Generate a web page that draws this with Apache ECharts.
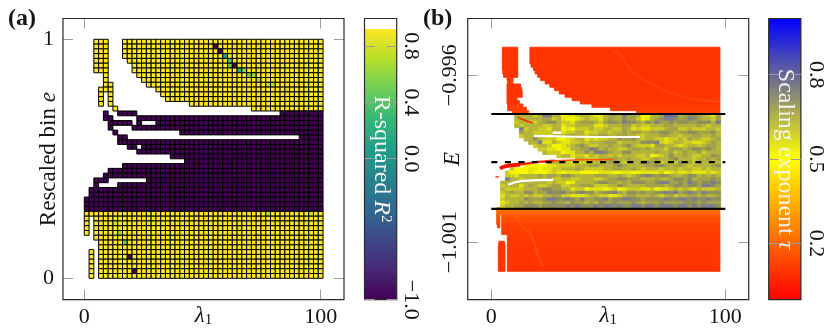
<!DOCTYPE html>
<html><head><meta charset="utf-8">
<style>html,body{margin:0;padding:0;background:#fff}#c{width:831px;height:334px}</style>
<script src="https://cdn.jsdelivr.net/npm/echarts@6/dist/echarts.min.js"></script>
</head><body><div id="c"></div>
<script>
// ---------- panel (a): R-squared cells ----------
const ticksLambda = [0, 100];
const ticksBin = [0, 1];
const ticksR2 = [-1, 0, 0.4, 0.8];
const ticksTau = [0.2, 0.5, 0.8];
const ticksE = [-1.001, -0.996];
const r2Yellow = 0.92, r2Purple = -1;
const rowKindA = 'yyyyyyyyyyyyyyypppppppppppppppppppppyyyyyyyyyyyyyy';
const spansA = [
 [[2,4],[8,49]],[[2,4],[8,49]],[[2,4],[8,49]],[[2,4],[8,49]],[[2,4],[9,49]],
 [[2,4],[10,49]],[[2,4],[10,49]],[[4,4],[11,49]],[[4,4],[12,49]],[[4,5],[13,49]],
 [[3,5],[15,49]],[[3,3],[5,5],[16,49]],[[3,3],[5,5],[17,49]],[[3,3],[5,5],[22,49]],[[6,6],[35,49]],
 [[4,4],[7,10],[41,49]],[[4,5],[11,49]],[[5,9],[11,11],[15,49]],[[5,5],[10,49]],[[6,6],[20,49]],
 [[7,8],[45,49]],[[7,49]],[[9,10],[12,49]],[[11,49]],[[18,49]],
 [[21,49]],[[8,49]],[[5,49]],[[4,49]],[[2,4],[13,49]],
 [[2,2],[7,49]],[[1,49]],[[1,49]],[[0,49]],[[0,49]],[[0,49]],
 [[0,49]],[[0,0],[2,49]],[[0,0],[2,49]],[[0,0],[2,49]],[[0,0],[2,49]],
 [[2,49]],[[3,49]],[[3,49]],[[1,1],[3,49]],[[1,1],[3,49]],[[1,1],[3,49]],[[1,1],[3,49]],[[1,1],[3,49]],[[1,1],[3,49]]
];
// [column, row, R2] cells that differ from their block
const oddCellsA = [
 [27,1,-1],[28,2,-1],[29,3,0.1],[30,4,0.35],[30,5,0.5],[31,5,-1],[32,6,0.2],[33,6,0.6],
 [34,7,0.55],[35,7,0.65],[36,8,0.7],[38,9,0.75],[39,9,0.75],[42,10,0.8],
 [9,45,-1],[10,48,-1],[7,40,0.65],[8,42,0.5],[6,38,0.8],[38,36,0.75],[47,36,0.78],[32,39,0.8]
];
// ---------- panel (b): scaling exponent cells ----------
const rowEBand = [-0.99722,-0.99732,-0.99742,-0.99752,-0.99762,-0.99772,-0.99782,-0.99792,-0.99802,-0.99812,
 -0.99822,-0.99832,-0.99842,-0.99852,-0.99862,-0.99872,-0.99882,-0.99892,-0.99902,-0.99912,
 -0.99922,-0.99932,-0.99942,-0.99952,-0.99962,-0.99972,-0.99982,-0.99992];
// one digit per 2-wide lambda bin, index into bandColours (overlapping yellow to slate markers)
const bandColours = ['#f6f600','#e4e410','#cccc26','#b4b43c','#a2a24a','#8e8e5c','#7c7c8e','#6c6ca8'];
const tauBand = [
 '..... 33332 36633 01123 32113 44364 43003 34776 34554 3214',
 '..... 33333 34423 10012 32213 43354 42013 45665 44654 3324',
 '..... 23322 34553 22134 44324 55465 54354 64454 55445 5536',
 '..... 32333 32233 12233 33112 33344 23223 33443 33334 3233',
 '..... .6233 22133 01022 23223 32243 12112 22344 22322 2332',
 '..... .4332 222.. 12233 12233 23343 44334 45543 44554 4453',
 '..... .233. ...33 34433 23344 33443 32233 34433 23344 3343',
 '..... ..335 32220 01233 12122 33544 53233 22122 32433 2234',
 '..... ...33 61132 11223 23334 44233 33555 62123 32211 2343',
 '..... ....2 33200 12345 32233 43345 32221 44332 12332 3443',
 '..... ..... 22110 11334 46534 33223 44343 33244 43455 4543',
 '..... ..... .3222 01133 53665 43355 33333 43342 34334 2333',
 '..... ..... ....2 33122 13233 23233 32230 12353 34322 3354',
 '..... ..... ..... ...33 22233 44334 33223 43345 33323 3434',
 '..... ..... ..233 22112 22333 44323 33654 32322 53423 3323',
 '..... ..000 00112 22233 34433 34543 33344 55434 43233 3345',
 '....2 00011 01122 33343 22223 34433 43233 32333 23322 3233',
 '...20 00010 00121 01110 00011 10011 00111 12012 11211 1212',
 '...22 13333 43443 55433 33444 33432 34565 45543 34553 4343',
 '...63 32333 33422 33223 33223 44554 44333 43345 54534 4454',
 '..333 33333 33232 20133 33455 44343 55544 56644 54654 5565',
 '..233 31343 22344 22334 44222 33543 33344 44345 54554 6654',
 '..322 22333 45544 33122 01110 12012 22112 01123 23213 2223',
 '..234 33553 44655 64456 55345 56435 54544 55656 45654 6555',
 '..132 23232 23344 22111 23322 11234 43334 32342 33443 4334',
 '..233 33544 45665 56546 44556 45566 55455 55655 66565 5655',
 '..123 34343 34454 43544 34354 45444 54344 45444 45554 5444',
 '..233 44555 45555 56565 55656 65655 66566 56665 66565 6665'
];
// red block above the band: E of each row, tau, lambda spans
const rowETop = [-0.99521,-0.99531,-0.99541,-0.99551,-0.99561,-0.99571,-0.99581,-0.99591,-0.99601,-0.99611,
 -0.99621,-0.99631,-0.99641,-0.99651,-0.99661,-0.99671,-0.99681,-0.99691,-0.99701,-0.99711];
const tauTop = [0.1,0.1,0.1,0.1,0.1,0.1,0.1,0.1,0.1,0.1,0.1,0.1,0.1,0.1,0.1,0.105,0.105,0.11,0.115,0.125];
const spansTop = [
 [[4.7,11.3],[16.5,97.7]],[[4.7,11.3],[16.5,97.7]],[[4.7,11.3],[16.5,97.7]],[[4.7,11.3],[16.5,97.7]],[[4.7,11.3],[16.5,97.7]],
 [[4.7,11.3],[17,97.7]],[[4.7,11.3],[18,97.7]],[[4.9,11.3],[18.7,97.7]],[[5.2,11.3],[19.8,97.7]],[[6.7,9.3],[21,97.7]],
 [[7,9.2],[23,97.7]],[[6.7,12.5],[25,97.7]],[[6.7,13],[27,97.7]],[[6.7,13.2],[29,97.7]],[[6.7,13.2],[31.5,97.7]],
 [[6.7,11],[34.5,97.7]],[[6.7,12],[38,97.7]],[[7,11],[11.5,13.5],[43,97.7]],[[7,15],[51,97.7]],[[9,16],[62,97.7]]
];
// red block below the band
const rowEBottom = [-1.00002,-1.00012,-1.00022,-1.00032,-1.00042,-1.00052,-1.00062,-1.00072,-1.00082,-1.00092,
 -1.00102,-1.00112,-1.00122,-1.00132,-1.00142,-1.00152,-1.00162,-1.00172,-1.00182];
const tauBottom = [0.215,0.2,0.17,0.15,0.14,0.13,0.125,0.12,0.115,0.112,0.11,0.108,0.106,0.105,0.104,0.103,0.102,0.101,0.1];
const spansBottom = [
 [[2.3,97.7]],[[2.3,97.7]],[[2.3,3.7],[4.45,97.7]],[[2.3,3.7],[4.45,97.7]],[[2.3,3.7],[4.45,97.7]],
 [[2.6,3.7],[4.45,97.7]],[[4.45,97.7]],[[4.45,97.7]],[[6.85,97.7]],[[6.85,97.7]],
 [[3.2,5.6],[6.85,97.7]],[[3,5.85],[6.85,97.7]],[[3,5.85],[6.85,97.7]],[[3,5.85],[6.85,97.7]],[[3,5.85],[6.85,97.7]],
 [[3,5.85],[6.85,97.7]],[[3,5.85],[6.85,97.7]],[[3,5.85],[6.85,97.7]],[[3,5.85],[6.85,97.7]]
];
// level lines
const lineLambda = [0, 100];
const solidE = [-0.99716, -1.0];
const dashedE = -0.9986;
// thin curves of outlying points and empty gaps
const arcTop = [[51.6,-0.99524],[55,-0.99539],[60.5,-0.9959],[69,-0.99629],[79.3,-0.99659],[97.7,-0.9968]];
const arcBottom = [[10,-1.00018],[13.5,-1.00054],[16.5,-1.00072],[19.5,-1.00129],[21.7,-1.00174]];
const redRidge = [[3.7,-0.99879],[5.9,-0.99873],[8,-0.9987],[12.3,-0.99867]];
const redRidgeMid = [[12.3,-0.99867],[18,-0.99861],[23,-0.99858],[27,-0.99856]];
const redRidgeThin = [[27,-0.99856],[38,-0.99853],[52,-0.99852]];
const redCorner = [[11.4,-0.99725],[14,-0.99734],[17.8,-0.99743]];
const redDot = [[2.5,-0.99902],[2.5,-0.99906]];
const gapUpper = [[23,-0.99782],[46.5,-0.99785],[63.5,-0.99785]];
const gapLower = [[7.1,-0.99928],[13.5,-0.99916],[26.4,-0.99913]];

// ---------- colours ----------
const viridis = ['#440154','#482878','#3e4989','#31688e','#26828e','#1f9e89','#35b779','#6ece58','#b5de2b','#fde725'];
const r2Range = [-1, 0.92];
function hex(c){return [parseInt(c.slice(1,3),16),parseInt(c.slice(3,5),16),parseInt(c.slice(5,7),16)];}
function colR2(v){
  const t=(v-r2Range[0])/(r2Range[1]-r2Range[0])*(viridis.length-1);
  const i=Math.min(Math.floor(t),viridis.length-2),f=t-i,a=hex(viridis[i]),b=hex(viridis[i+1]);
  return 'rgb('+a.map((x,k)=>Math.round(x+(b[k]-x)*f)).join(',')+')';
}
function colTau(t){
  if(t>=1) return bandColours[Math.round(t-1)];   // band cells carry 1 + level
  return 'rgb(255,'+Math.round(510*t)+',0)';
}
// ---------- build rectangles ----------
const lamStepA=2.02, binStep=0.02, lamStepB=2, eStep=0.0001;
const cellsA=[];
const oddKey={}; oddCellsA.forEach(o=>oddKey[o[0]+'_'+o[1]]=o[2]);
spansA.forEach((sp,r)=>sp.forEach(s=>{for(let c=s[0];c<=s[1];c++){
  const k=c+'_'+r, v=k in oddKey?oddKey[k]:(rowKindA[r]==='y'?r2Yellow:r2Purple);
  cellsA.push([c*lamStepA,(c+1)*lamStepA,1-r*binStep,1-(r+1)*binStep,v]);
}}));
const cellsB=[];
function addSpans(es,ts,sp){es.forEach((e,i)=>sp[i].forEach(s=>cellsB.push([s[0],s[1],e+eStep/2,e-eStep/2,ts[i]])));}
addSpans(rowETop,tauTop,spansTop);
addSpans(rowEBottom,tauBottom,spansBottom);
tauBand.forEach((row,k)=>{const s=row.replace(/ /g,'');for(let c=0;c<s.length;c++){
  if(s[c]==='.')continue;
  cellsB.push([c*lamStepB,(c+1)*lamStepB,rowEBand[k]+eStep/2,rowEBand[k]-eStep/2,1+Number(s[c])]);
}});

function rectSeries(name,data,xi,yi,colour,stroke,sw,z){
  return {name,type:'custom',xAxisIndex:xi,yAxisIndex:yi,data,silent:true,animation:false,z:z||2,clip:true,
    renderItem(p,api){
      const a=api.coord([api.value(0),api.value(2)]),b=api.coord([api.value(1),api.value(3)]);
      const f=colour(api.value(4));
      return {type:'rect',shape:{x:a[0],y:a[1],width:b[0]-a[0],height:b[1]-a[1]},
        style:{fill:f,stroke:stroke||f,lineWidth:sw}};
    }};
}
function gradSeries(name,lo,hi,stops,xi,yi){
  return {name,type:'custom',xAxisIndex:xi,yAxisIndex:yi,data:[[0,1,hi,lo]],silent:true,animation:false,z:2,
    renderItem(p,api){
      const a=api.coord([0,api.value(2)]),b=api.coord([1,api.value(3)]);
      return {type:'rect',shape:{x:a[0],y:a[1],width:b[0]-a[0],height:b[1]-a[1]},
        style:{fill:new echarts.graphic.LinearGradient(0,0,0,1,stops)}};
    }};
}
function curve(data,color,width,smooth){
  return {type:'line',xAxisIndex:3,yAxisIndex:4,data,smooth:!!smooth,symbol:'none',silent:true,animation:false,z:3,lineStyle:{color,width}};
}
const F='"Liberation Serif"',FS=22,NS=23,INK='#151515',TICK='#9c9c9c';
const rich={i:{fontFamily:F,fontStyle:'italic',fontSize:NS,color:INK},
            t:{fontFamily:F,fontSize:NS,color:INK},
            s:{fontFamily:F,fontSize:15,color:INK,padding:[9,0,0,0]}};
const richW={i:{fontFamily:F,fontStyle:'italic',fontSize:24,color:'#f4f4f4'},
            t:{fontFamily:F,fontSize:24,color:'#f4f4f4'},
            u:{fontFamily:F,fontSize:15,color:'#f4f4f4',padding:[0,0,9,0]}};
function fmt1(v){return v.toFixed(1).replace('-','\u2212');}
function fmt0(v){return String(v).replace('-','\u2212');}
function ax(opts){
  const {min,max,ticks,show=false,pos,gi,fm=fmt0,margin=8,rotate=0,z=0,extra={}}=opts;
  return Object.assign({type:'value',gridIndex:gi,min,max,position:pos,z,
    axisLine:{show:false,onZero:false},splitLine:{show:false},
    axisTick:{show:true,inside:true,length:10,customValues:ticks,lineStyle:{color:TICK,width:1}},
    axisLabel:{show,customValues:ticks,formatter:fm,margin,rotate,color:INK,fontFamily:F,fontSize:FS,
      ...(rotate?{align:'center',verticalAlign:'middle'}:{})}},extra);
}
const XA=[-9.01,109.86],YA=[-0.0895,1.087],XB=[-10.09,110],YB=[-1.00272,-0.9943];
const nameLam={name:'{i|\u03bb}{s|1}',nameLocation:'middle',nameGap:16,nameMoveOverlap:false,nameTextStyle:{rich,verticalAlign:'middle'}};
const option={
  backgroundColor:'#fff',animation:false,
  grid:[
    {left:63,top:18.5,width:281,height:281.2,show:true,borderColor:'#2a2a2a',borderWidth:1.2,z:5,backgroundColor:'transparent'},
    {left:364.5,top:18.5,width:32.2,height:281.2,show:true,borderColor:'#2a2a2a',borderWidth:1.2,z:5,backgroundColor:'transparent'},
    {left:467.7,top:18.5,width:281,height:281.2,show:true,borderColor:'#2a2a2a',borderWidth:1.2,z:5,backgroundColor:'transparent'},
    {left:768.7,top:18.5,width:32.2,height:281.2,show:true,borderColor:'#2a2a2a',borderWidth:1.2,z:5,backgroundColor:'transparent'}
  ],
  xAxis:[
    ax({gi:0,min:XA[0],max:XA[1],ticks:ticksLambda,show:true,pos:'bottom',margin:7,extra:nameLam}),
    ax({gi:0,min:XA[0],max:XA[1],ticks:ticksLambda,pos:'top'}),
    {type:'value',gridIndex:1,min:0,max:1,show:false},
    ax({gi:2,min:XB[0],max:XB[1],ticks:ticksLambda,show:true,pos:'bottom',margin:7,extra:nameLam}),
    ax({gi:2,min:XB[0],max:XB[1],ticks:ticksLambda,pos:'top'}),
    {type:'value',gridIndex:3,min:0,max:1,show:false}
  ],
  yAxis:[
    ax({gi:0,min:YA[0],max:YA[1],ticks:ticksBin,show:true,pos:'left',margin:9,extra:{
      name:'{t|Rescaled bin }{i|e}',nameLocation:'middle',nameRotate:90,nameGap:14,nameMoveOverlap:false,nameTextStyle:{rich,verticalAlign:'middle'}}}),
    ax({gi:0,min:YA[0],max:YA[1],ticks:ticksBin,pos:'right'}),
    ax({gi:1,min:-1,max:0.995,ticks:ticksR2,pos:'left',z:6,extra:{
      name:'{t|R-squared }{i|R}{u|2}',nameLocation:'middle',nameRotate:-90,nameGap:-17,nameMoveOverlap:false,nameTextStyle:{rich:richW,verticalAlign:'middle'}}}),
    ax({gi:1,min:-1,max:0.995,ticks:ticksR2,pos:'right',show:true,fm:fmt1,margin:14,rotate:-90,z:6}),
    ax({gi:2,min:YB[0],max:YB[1],ticks:ticksE,show:true,pos:'left',margin:17,rotate:90,extra:{
      name:'{i|E}',nameLocation:'middle',nameRotate:90,nameGap:15,nameMoveOverlap:false,nameTextStyle:{rich,verticalAlign:'middle'}}}),
    ax({gi:2,min:YB[0],max:YB[1],ticks:ticksE,pos:'right'}),
    ax({gi:3,min:0,max:1,ticks:ticksTau,pos:'left',z:6,extra:{
      name:'{t|Scaling exponent }{i|\u03c4}',nameLocation:'middle',nameRotate:-90,nameGap:-17,nameMoveOverlap:false,nameTextStyle:{rich:richW,verticalAlign:'middle'}}}),
    ax({gi:3,min:0,max:1,ticks:ticksTau,pos:'right',show:true,fm:fmt1,margin:15,rotate:-90,z:6})
  ],
  graphic:[
    {type:'text',left:8,top:7,style:{text:'(a)',font:'bold 24px '+F,fill:INK}},
    {type:'text',left:423,top:7,style:{text:'(b)',font:'bold 24px '+F,fill:INK}}
  ],
  series:[
    rectSeries('R2 cells',cellsA,0,0,colR2,'#000',1),
    gradSeries('R2 bar',r2Range[0],r2Range[1],viridis.map((c,i)=>({offset:1-i/(viridis.length-1),color:c})).reverse(),2,2),
    rectSeries('tau cells',cellsB,3,4,colTau,null,0.9),
    curve(gapUpper,'#fff',2,true),
    curve(gapLower,'#fff',2.2,true),
    curve(arcTop,'rgba(255,95,5,.35)',2.5,true),
    curve(arcBottom,'rgba(255,110,5,.35)',2.5,true),
    curve(redRidge,'#ff1400',4,true),
    curve(redRidgeMid,'#ff2a00',2.6,true),
    curve(redRidgeThin,'#ff5a00',1.4,true),
    curve(redCorner,'#ff2a00',1.5,true),
    curve(redDot,'#ff1400',3.5),
    ...solidE.map(e=>({type:'line',xAxisIndex:3,yAxisIndex:4,data:lineLambda.map(l=>[l,e]),symbol:'none',silent:true,animation:false,z:4,lineStyle:{color:'#000',width:2.2}})),
    {type:'line',xAxisIndex:3,yAxisIndex:4,data:lineLambda.map(l=>[l,dashedE]),symbol:'none',silent:true,animation:false,z:4,lineStyle:{color:'#000',width:2.2,type:[6,7.6]}},
    gradSeries('tau bar',0,1,[{offset:0,color:'#0000ff'},{offset:0.5,color:'#ffff00'},{offset:1,color:'#ff0000'}],5,6)
  ]
};
echarts.init(document.getElementById('c'),null,{renderer:'canvas'}).setOption(option);
</script></body></html>
